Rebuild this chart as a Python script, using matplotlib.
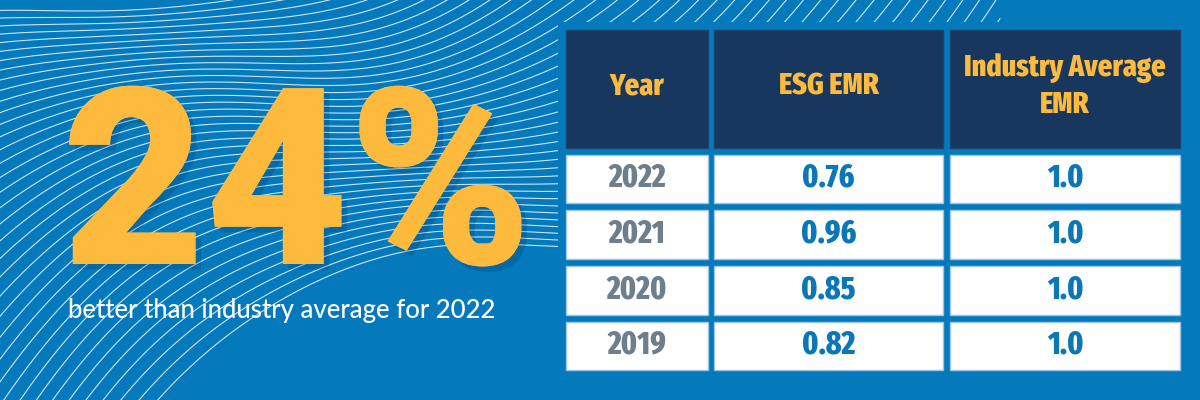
import matplotlib
matplotlib.use("Agg")
import matplotlib.pyplot as plt
import matplotlib.patheffects as pe
import numpy as np
from matplotlib.patches import Rectangle

# data
headline = "24%"
subtitle = "better than industry average for 2022"
headers = ["Year", "ESG EMR", "Industry Average\nEMR"]
years = ["2022", "2021", "2020", "2019"]
esg_emr = [0.76, 0.96, 0.85, 0.82]
industry_emr = [1.0, 1.0, 1.0, 1.0]

BLUE = "#0479bc"
NAVY = "#17375f"
YELLOW = "#fdba3c"
GRAY = "#6e7e8b"
VAL_BLUE = "#0b77b7"

BIG_FONT = ["Roboto", "DejaVu Sans"]
COND_FONT = ["Fira Sans Extra Condensed", "Pragati Narrow", "Liberation Sans Narrow", "DejaVu Sans"]
SUB_FONT = ["Lato", "DejaVu Sans"]

fig = plt.figure(figsize=(12, 4), dpi=100)
fig.patch.set_facecolor(BLUE)
ax = fig.add_axes([0, 0, 1, 1])
ax.set_xlim(0, 1200)
ax.set_ylim(400, 0)
ax.axis("off")
ax.set_facecolor(BLUE)

# decorative background lines
xs = np.linspace(-50, 1000, 600)
n_lines = 38
for t in np.linspace(0, 1, n_lines):
    m = 100 + 460 * t
    c = 8 + 237 * t
    ys = c + 2.4e-6 * (m - xs) ** 3 + 3 * np.sin(xs / 55 + 3 * t)
    ax.plot(xs, ys, color="white", lw=0.8, alpha=0.8, zorder=1)

# panel behind table hides the lines
ax.add_patch(Rectangle((558, 22), 700, 400, facecolor=BLUE, edgecolor="none", zorder=2))

# headline
shadow = [pe.withSimplePatchShadow(offset=(4, -4), shadow_rgbFace="#02345c", alpha=0.22), pe.Normal()]
ax.text(62, 264, headline, fontsize=178, fontweight="black", family=BIG_FONT,
        color=YELLOW, ha="left", va="baseline", zorder=5, path_effects=shadow)
ax.text(68, 318, subtitle, fontsize=18.5, fontweight="medium", family=SUB_FONT, color="white",
        ha="left", va="baseline", zorder=5)

# table
col_x = [(566, 708), (714, 943), (950, 1180)]
head_y = (30, 148)
row_y = [(155, 203), (210, 259), (266, 315), (322, 370)]

for (x0, x1), h in zip(col_x, headers):
    ax.add_patch(Rectangle((x0, head_y[0]), x1 - x0, head_y[1] - head_y[0],
                           facecolor=NAVY, edgecolor="#1d4470", lw=1, zorder=3))
    ax.text((x0 + x1) / 2, 86, h, fontsize=22, fontweight="heavy", family=COND_FONT,
            color=YELLOW, ha="center", va="center", linespacing=1.3, zorder=4)

columns = [years, [f"{v:.2f}" for v in esg_emr], [f"{v:.1f}" for v in industry_emr]]
colors = [GRAY, VAL_BLUE, VAL_BLUE]
for (x0, x1), vals, col in zip(col_x, columns, colors):
    for (y0, y1), v in zip(row_y, vals):
        ax.add_patch(Rectangle((x0, y0), x1 - x0, y1 - y0, facecolor="white",
                               edgecolor="#9cc6e4", lw=1, zorder=3))
        ax.text((x0 + x1) / 2, (y0 + y1) / 2 - 1, v, fontsize=23, fontweight="heavy",
                family=COND_FONT, color=col, ha="center", va="center", zorder=4)

fig.savefig("out.png", dpi=100, facecolor=BLUE)
